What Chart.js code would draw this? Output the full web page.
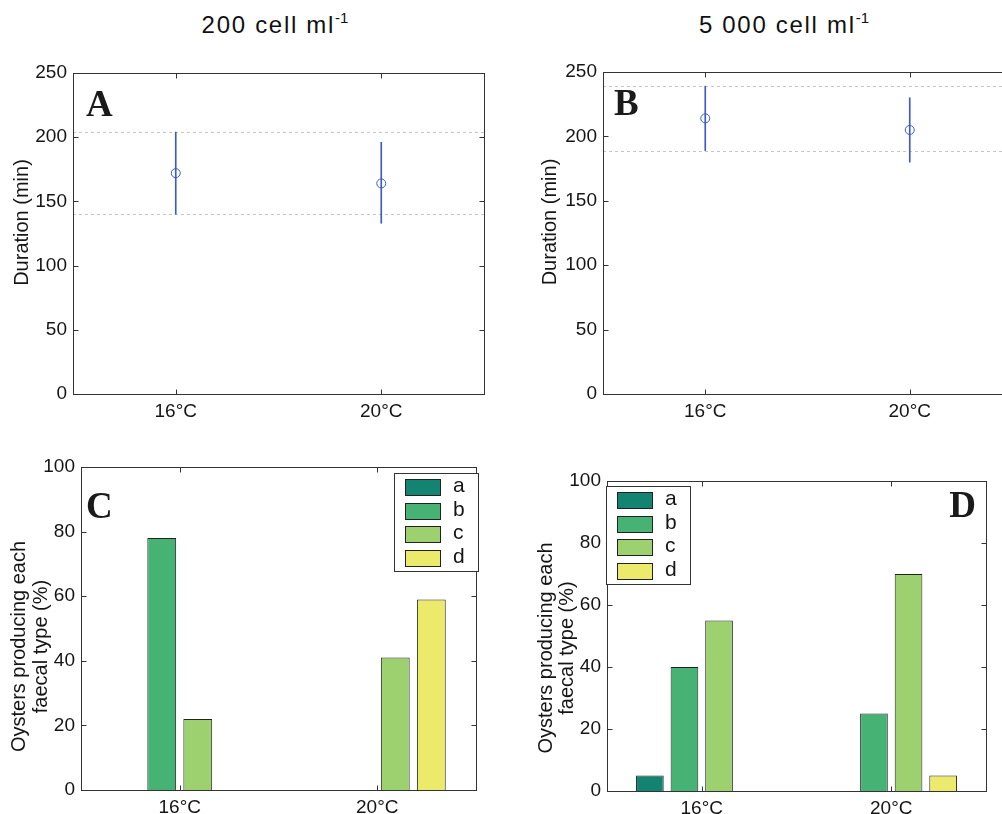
<!DOCTYPE html>
<html>
<head>
<meta charset="utf-8">
<script src="https://cdn.jsdelivr.net/npm/chart.js@4.4.1/dist/chart.umd.min.js"></script>
<style>
  html, body { margin: 0; padding: 0; background: #fff; overflow: hidden; }
  #fig { position: relative; width: 1002px; height: 814px; overflow: hidden; }
  #fig canvas { position: absolute; }
  .head {
    position: absolute; top: 13px; transform: translateX(-50%);
    font: 24px "Liberation Sans", Arial, sans-serif; color: #111;
    letter-spacing: 1.7px; line-height: 24px; white-space: nowrap;
  }
  .head sup { font-size: 15px; letter-spacing: 0; position: relative; top: -1px; vertical-align: super; line-height: 0; }
</style>
</head>
<body>
<div id="fig">
  <div class="head" style="left:275px">200 cell ml<sup>-1</sup></div>
  <div class="head" style="left:784px">5 000 cell ml<sup>-1</sup></div>
  <canvas id="panelA" width="500" height="370" style="left:0;top:50px"></canvas>
  <canvas id="panelB" width="510" height="370" style="left:520px;top:50px"></canvas>
  <canvas id="panelC" width="500" height="374" style="left:0;top:440px"></canvas>
  <canvas id="panelD" width="482" height="374" style="left:520px;top:440px"></canvas>
</div>
<script>
/* ---- data ---- */
const temps = ['16°C', '20°C'];

// A: 200 cell ml-1, duration (min): mean and error bar ends
const meanA = [172, 164];
const lowA  = [140, 133];
const highA = [204, 196];
const refA  = [140, 204];   // dashed guide lines

// B: 5 000 cell ml-1
const meanB = [214, 205];
const lowB  = [189, 180];
const highB = [239, 230];
const refB  = [189, 239];

// C / D: % oysters producing each faecal type
const faecalTypes = ['a', 'b', 'c', 'd'];
const typeColors  = ['#138471', '#46b273', '#9dd06f', '#ecea6b'];
const pctC_a = [0, 0];
const pctC_b = [78, 0];
const pctC_c = [22, 41];
const pctC_d = [0, 59];
const pctD_a = [5, 0];
const pctD_b = [40, 25];
const pctD_c = [55, 70];
const pctD_d = [0, 5];

const SANS  = '"Liberation Sans", Arial, sans-serif';
const SERIF = '"Liberation Serif", "Times New Roman", serif';
const INK   = '#151515';
const BLUE  = '#3d5cc2';

/* ---- plugins: matlab-ish box, guides, legend, labels ---- */
const refLines = {
  id: 'refLines',
  beforeDatasetsDraw(chart, args, opts) {
    if (!opts.values) return;
    const { ctx, chartArea: a, scales: { y } } = chart;
    ctx.save();
    ctx.strokeStyle = '#c4c4c4';
    ctx.lineWidth = 1;
    ctx.setLineDash([3, 3]);
    opts.values.forEach(v => {
      const py = Math.round(y.getPixelForValue(v)) + 0.5;
      ctx.beginPath();
      ctx.moveTo(a.left, py);
      ctx.lineTo(a.right, py);
      ctx.stroke();
    });
    ctx.restore();
  }
};

const boxAxes = {
  id: 'boxAxes',
  afterDatasetsDraw(chart) {
    const { ctx, chartArea: a, scales: { x, y } } = chart;
    const L = Math.round(a.left) + 0.5, R = Math.round(a.right) + 0.5;
    const T = Math.round(a.top) + 0.5, B = Math.round(a.bottom) + 0.5;
    const tl = 5;
    ctx.save();
    ctx.strokeStyle = '#333';
    ctx.lineWidth = 1;
    ctx.strokeRect(L, T, R - L, B - T);
    ctx.beginPath();
    y.ticks.forEach(t => {
      const py = Math.round(y.getPixelForValue(t.value)) + 0.5;
      ctx.moveTo(L, py); ctx.lineTo(L + tl, py);
      ctx.moveTo(R, py); ctx.lineTo(R - tl, py);
    });
    x.ticks.forEach((t, i) => {
      const px = Math.round(x.getPixelForTick(i)) + 0.5;
      ctx.moveTo(px, B); ctx.lineTo(px, B - tl);
      ctx.moveTo(px, T); ctx.lineTo(px, T + tl);
    });
    ctx.stroke();
    ctx.restore();
  }
};

// rotated y label, one entry per line: x of each line, shift of centre from chart-area middle
const yLabel = {
  id: 'yLabel',
  afterDraw(chart, args, opts) {
    if (!opts.lines) return;
    const { ctx, chartArea: a } = chart;
    ctx.save();
    ctx.font = opts.size + 'px ' + SANS;
    ctx.fillStyle = INK;
    ctx.textAlign = 'center';
    ctx.textBaseline = 'middle';
    opts.lines.forEach((txt, i) => {
      ctx.save();
      ctx.translate(opts.x[i], (a.top + a.bottom) / 2 + opts.shift);
      ctx.rotate(-Math.PI / 2);
      ctx.fillText(txt, 0, 0);
      ctx.restore();
    });
    ctx.restore();
  }
};

const boxLegend = {
  id: 'boxLegend',
  afterDraw(chart, args, opts) {
    if (!opts.side) return;
    const { ctx, chartArea: a } = chart;
    const w = 84, h = 98, row = 23.5;
    const left = opts.side === 'right' ? a.right + opts.dx - w : a.left + opts.dx;
    const top = a.top + opts.dy;
    ctx.save();
    ctx.fillStyle = '#fff';
    ctx.fillRect(left, top, w, h);
    ctx.strokeStyle = '#333';
    ctx.lineWidth = 1;
    ctx.strokeRect(Math.round(left) + 0.5, Math.round(top) + 0.5, w, h);
    ctx.font = '21px ' + SANS;
    ctx.textBaseline = 'middle';
    chart.data.datasets.forEach((ds, i) => {
      const sy = Math.round(top + 6 + i * row) + 0.5;
      ctx.fillStyle = ds.backgroundColor;
      ctx.fillRect(left + 11, sy, 35, 16);
      ctx.strokeStyle = '#222';
      ctx.strokeRect(Math.round(left + 11) + 0.5, sy, 35, 16);
      ctx.fillStyle = INK;
      ctx.fillText(ds.label, left + 59, sy + 7);
    });
    ctx.restore();
  }
};

const panelLetter = {
  id: 'panelLetter',
  afterDraw(chart, args, opts) {
    if (!opts.text) return;
    const { ctx, chartArea: a } = chart;
    ctx.save();
    ctx.font = 'bold 37px ' + SERIF;
    ctx.fillStyle = '#1a1a1a';
    ctx.textBaseline = 'alphabetic';
    if (opts.right) {
      ctx.textAlign = 'right';
      ctx.fillText(opts.text, a.right + opts.dx, a.top + opts.dy);
    } else {
      ctx.textAlign = 'left';
      ctx.fillText(opts.text, a.left + opts.dx, a.top + opts.dy);
    }
    ctx.restore();
  }
};

Chart.defaults.font.family = SANS;
Chart.defaults.color = INK;

function axes(lay, yMax, yStep) {
  return {
    x: {
      type: 'category',
      offset: true,
      grid: { display: false, drawTicks: false },
      border: { display: false },
      ticks: { font: { size: 19 }, color: INK, padding: 6, maxRotation: 0 },
      afterFit: s => { s.height = lay.xh; }
    },
    y: {
      min: 0, max: yMax,
      grid: { display: false, drawTicks: false },
      border: { display: false },
      ticks: { stepSize: yStep, font: { size: 19 }, color: INK, padding: 6 },
      afterFit: s => { s.width = lay.yw; }
    }
  };
}

function durationChart(id, mean, low, high, ref, letter, ylab, lay) {
  return new Chart(document.getElementById(id), {
    data: {
      labels: temps,
      datasets: [
        {
          type: 'line',
          label: 'mean',
          data: mean,
          showLine: false,
          pointStyle: 'circle',
          pointRadius: 4.5,
          pointBorderWidth: 1,
          pointBorderColor: BLUE,
          pointBackgroundColor: 'rgba(0,0,0,0)'
        },
        {
          type: 'bar',
          label: 'range',
          data: temps.map((_, i) => [low[i], high[i]]),
          backgroundColor: BLUE,
          barThickness: 1,
          borderWidth: 0
        }
      ]
    },
    options: {
      responsive: false,
      animation: false,
      layout: { padding: { top: lay.top, right: lay.right, left: 0, bottom: 0 } },
      scales: axes(lay, 250, 50),
      plugins: {
        legend: { display: false },
        tooltip: { enabled: false },
        refLines: { values: ref },
        yLabel: ylab,
        panelLetter: letter
      }
    },
    plugins: [refLines, boxAxes, yLabel, panelLetter]
  });
}

function faecalChart(id, series, letter, legendPos, ylab, lay) {
  return new Chart(document.getElementById(id), {
    type: 'bar',
    data: {
      labels: temps,
      datasets: series.map((vals, i) => ({
        label: faecalTypes[i],
        data: vals,
        backgroundColor: typeColors[i],
        borderColor: '#222',
        borderWidth: c => (c.raw ? 1 : 0),
        categoryPercentage: 0.73,
        barPercentage: 0.8
      }))
    },
    options: {
      responsive: false,
      animation: false,
      layout: { padding: { top: lay.top, right: lay.right, left: 0, bottom: 0 } },
      scales: axes(lay, 100, 20),
      plugins: {
        legend: { display: false },
        tooltip: { enabled: false },
        boxLegend: legendPos,
        yLabel: ylab,
        panelLetter: letter
      }
    },
    plugins: [boxAxes, boxLegend, yLabel, panelLetter]
  });
}

const durLabel = ['Duration (min)'];
const pctLabel = ['Oysters producing each', 'faecal type (%)'];

durationChart('panelA', meanA, lowA, highA, refA,
  { text: 'A', dx: 13, dy: 43 },
  { lines: durLabel, x: [22], shift: -11, size: 20 },
  { top: 23, right: 16, yw: 73, xh: 26 });

durationChart('panelB', meanB, lowB, highB, refB,
  { text: 'B', dx: 11, dy: 43 },
  { lines: durLabel, x: [30], shift: -11, size: 20 },
  { top: 22, right: 18, yw: 83, xh: 26 });

faecalChart('panelC', [pctC_a, pctC_b, pctC_c, pctC_d],
  { text: 'C', dx: 5, dy: 51 },
  { side: 'right', dx: 2, dy: 6 },
  { lines: pctLabel, x: [19, 41], shift: 18, size: 20 },
  { top: 27, right: 24, yw: 81, xh: 24 });

faecalChart('panelD', [pctD_a, pctD_b, pctD_c, pctD_d],
  { text: 'D', dx: -10, dy: 36, right: true },
  { side: 'left', dx: -1, dy: 5 },
  { lines: pctLabel, x: [26, 47], shift: 12, size: 20 },
  { top: 41, right: 16, yw: 87, xh: 23 });
</script>
</body>
</html>
